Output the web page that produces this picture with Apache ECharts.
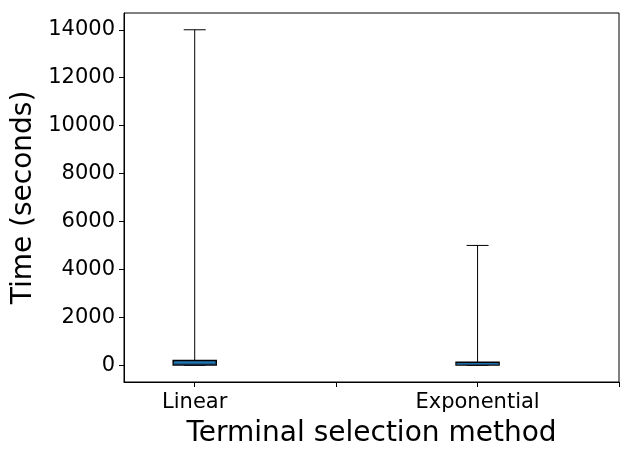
<!DOCTYPE html>
<html>
<head>
<meta charset="utf-8">
<script src="https://cdn.jsdelivr.net/npm/echarts@6/dist/echarts.min.js"></script>
<style>
  html, body { margin: 0; padding: 0; background: #fff; }
  #chart { width: 633px; height: 456px; }
</style>
</head>
<body>
<div id="chart"></div>
<script>
// box positions on the x axis and their labels
const positions = [1, 3];
const categories = ['Linear', 'Exponential'];
// [min, q1, median, q3, max] in seconds
const linearBox = [0, 10, 60, 200, 14000];
const exponentialBox = [0, 5, 40, 120, 5000];
const boxes = [linearBox, exponentialBox];
const yTicks = [0, 2000, 4000, 6000, 8000, 10000, 12000, 14000];
const xTicks = [1, 2, 3, 4];

const font = 'DejaVu Sans';
const chart = echarts.init(document.getElementById('chart'), null, { renderer: 'canvas' });

const seriesData = boxes.map((b, i) => [positions[i]].concat(b));

const option = {
  animation: false,
  grid: { left: 124, right: 14, top: 13, bottom: 74, containLabel: false, outerBoundsMode: 'none' },
  xAxis: {
    type: 'value',
    min: 0.5,
    max: 4,
    name: 'Terminal selection method',
    nameLocation: 'middle',
    nameGap: 38,
    nameTextStyle: { fontFamily: font, fontSize: 28, color: '#000' },
    axisLine: { show: true, onZero: false, lineStyle: { color: '#000', width: 1 } },
    axisTick: { show: true, length: 5, lineStyle: { color: '#000' }, customValues: xTicks },
    axisLabel: {
      fontFamily: font, fontSize: 21, color: '#000', margin: 10,
      customValues: positions,
      formatter: v => categories[positions.indexOf(v)] || ''
    },
    splitLine: { show: false }
  },
  yAxis: {
    type: 'value',
    min: -700,
    max: 14700,
    name: 'Time (seconds)',
    nameLocation: 'middle',
    nameGap: 86,
    nameTextStyle: { fontFamily: font, fontSize: 28, color: '#000' },
    axisLine: { show: true, onZero: false, lineStyle: { color: '#000', width: 1 } },
    axisTick: { show: true, length: 5, lineStyle: { color: '#000' }, customValues: yTicks },
    axisLabel: {
      fontFamily: font, fontSize: 21, color: '#000', margin: 9,
      customValues: yTicks,
      formatter: v => String(v)
    },
    splitLine: { show: false }
  },
  series: [
    {
      type: 'custom',
      data: seriesData,
      encode: { x: 0, y: [1, 2, 3, 4, 5] },
      renderItem: function (params, api) {
        const x = api.value(0);
        const lo = api.coord([x, api.value(1)]);
        const q1 = api.coord([x, api.value(2)]);
        const med = api.coord([x, api.value(3)]);
        const q3 = api.coord([x, api.value(4)]);
        const hi = api.coord([x, api.value(5)]);
        const boxHalf = 21.5, capHalf = 11;
        const ls = { stroke: '#000', lineWidth: 1, fill: null };
        return {
          type: 'group',
          children: [
            { type: 'line', shape: { x1: hi[0], y1: hi[1], x2: q3[0], y2: q3[1] }, style: ls },
            { type: 'line', shape: { x1: lo[0], y1: lo[1], x2: q1[0], y2: q1[1] }, style: ls },
            { type: 'line', shape: { x1: hi[0] - capHalf, y1: hi[1], x2: hi[0] + capHalf, y2: hi[1] }, style: ls },
            { type: 'line', shape: { x1: lo[0] - capHalf, y1: lo[1], x2: lo[0] + capHalf, y2: lo[1] }, style: ls },
            {
              type: 'rect',
              shape: { x: q3[0] - boxHalf, y: q3[1], width: boxHalf * 2, height: Math.max(q1[1] - q3[1], 1) },
              style: { fill: '#1f77b4', stroke: '#000', lineWidth: 1.5 }
            },
            { type: 'line', shape: { x1: med[0] - boxHalf, y1: med[1], x2: med[0] + boxHalf, y2: med[1] }, style: { stroke: '#1f4f78', lineWidth: 1 } }
          ]
        };
      }
    }
  ],
  graphic: [
    {
      type: 'rect',
      shape: { x: 124, y: 13, width: 495, height: 369 },
      style: { fill: null, stroke: '#000', lineWidth: 1 },
      silent: true
    }
  ]
};

chart.setOption(option);
window.addEventListener('resize', chart.resize);
</script>
</body>
</html>
